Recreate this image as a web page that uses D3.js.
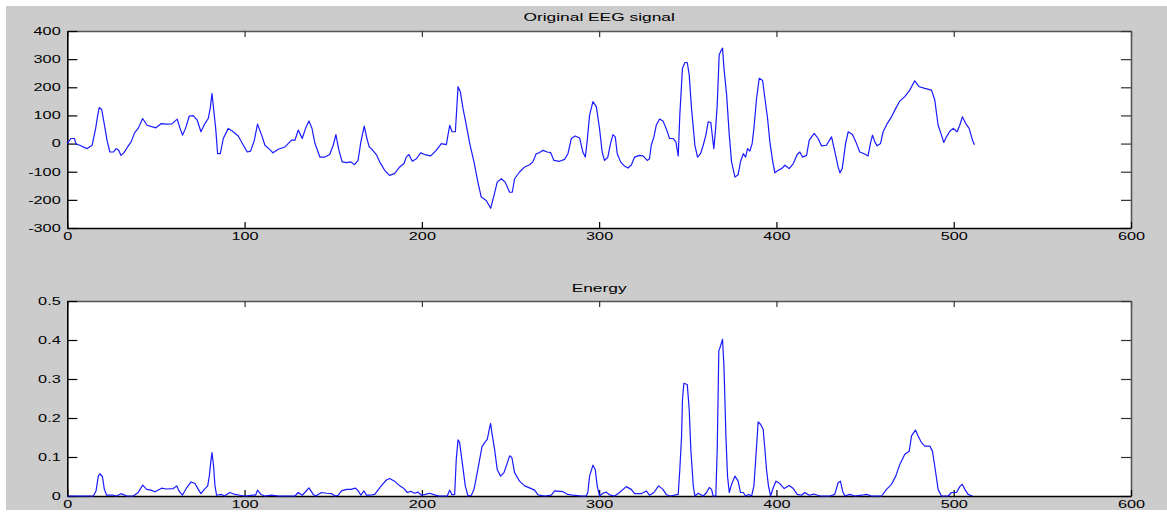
<!DOCTYPE html>
<html>
<head>
<meta charset="utf-8">
<script src="https://cdn.jsdelivr.net/npm/d3@7/dist/d3.min.js"></script>
<style>
    body { margin: 0; background: #ffffff; }
    svg { display: block; }
</style>
</head>
<body>
<div id="figure-area"></div>
<script>
// x axis (sample index) shared by both panels
var xTicks = [0, 100, 200, 300, 400, 500, 600];
var eegTicks = [-300, -200, -100, 0, 100, 200, 300, 400];
var energyTicks = [0, 0.1, 0.2, 0.3, 0.4, 0.5];

// [sample, value]
var eegPoints = [
    [0,0],[2,18],[4,18],[5,-2],[7,-6],[11,-18],[14,-6],[16,54],[17,95],[18,128],[19.4,121],[21,65],
    [22.4,12],[24,-30],[26,-30],[27.5,-18],[29,-24],[30.3,-42],[32,-32],[34,-12],[36,6],[38,39],[40,54],
    [42.5,89],[45,65],[47.6,60],[50,56],[53,71],[56,69],[59,70],[62,87],[63.6,54],[65,30],[66.7,54],
    [68.8,98],[71,99],[73.3,83],[75.4,42],[77.6,71],[79.5,89],[80.6,125],[81.6,178],[82.5,125],[83.7,54],
    [84.8,-36],[86.3,-36],[88,18],[90.8,54],[93.6,42],[96.4,27],[99.3,-6],[101.5,-30],[103.4,-27],
    [105.5,12],[107.3,69],[109.6,30],[111.5,-6],[113.7,-18],[116,-33],[119,-20],[122.8,-12],[126.5,12],
    [128.4,12],[130.3,48],[132.5,18],[134.4,54],[136.3,80],[138,54],[139.7,0],[142.5,-48],[145.3,-48],
    [148,-39],[150,-6],[151.5,32],[153,-18],[155,-65],[157.5,-68],[160,-65],[162,-75],[164,-60],
    [165.6,6],[167.5,62],[169,18],[170.3,-12],[171.5,-18],[174.3,-39],[176.2,-65],[179,-95],[181.8,-113],
    [184.6,-107],[187.5,-83],[189.9,-71],[191.2,-48],[192.7,-39],[194.6,-63],[196.9,-54],[199.3,-33],
    [201.6,-39],[205,-44],[208.1,-24],[211,0],[213.8,-4],[215.7,65],[217,42],[218.9,42],[220.4,202],
    [221.7,184],[223.2,125],[225.1,65],[227,0],[229.4,-65],[231.6,-137],[233.5,-190],[236.3,-202],
    [238.8,-230],[240.7,-184],[242.5,-137],[244.8,-125],[247,-137],[249.5,-173],[251,-173],[252.3,-125],
    [255.1,-101],[258,-83],[260.8,-75],[262.6,-65],[264.5,-36],[266.4,-32],[268.3,-24],[270.7,-30],
    [272.6,-32],[274.5,-60],[277.7,-63],[280.5,-56],[282.4,-36],[284.3,18],[286.5,27],[289,20],
    [290.8,-30],[292.2,-48],[293.3,12],[294.6,101],[296.5,149],[298.4,131],[300.2,54],[301.7,-30],
    [303,-60],[304.9,-48],[306.4,0],[307.8,32],[309.1,24],[310.2,-36],[312.1,-65],[314.3,-80],[316.2,-87],
    [318.1,-77],[320,-48],[322.8,-42],[324.7,-44],[327.1,-60],[328.4,-54],[329.4,-6],[330.9,24],
    [332.2,65],[334.1,87],[336,80],[337.8,54],[339.7,18],[341.8,18],[343.3,6],[344.6,-44],[345.5,101],
    [347,268],[348.4,288],[349.7,288],[350.8,244],[352.1,125],[354,-6],[355.5,-48],[357.2,-36],
    [358.7,-6],[360.2,30],[361.5,77],[363,75],[364,18],[364.7,-18],[365.7,54],[366.6,137],[367.7,315],
    [368.7,330],[369.6,339],[370.4,268],[371.9,173],[373.4,30],[374.7,-65],[376.6,-119],[378.4,-111],
    [379.7,-65],[381.3,-36],[382.6,-48],[383.7,-18],[385,-27],[386.3,0],[387.3,54],[388.8,161],
    [390.3,232],[392.2,224],[393.5,161],[395,89],[396.3,6],[397.8,-60],[399.1,-104],[401,-95],
    [402.9,-89],[404.8,-77],[407.2,-89],[409.5,-71],[411.7,-39],[413.2,-30],[414.7,-48],[417,-42],
    [418.5,12],[421.3,36],[423.5,18],[425.4,-8],[428.2,-6],[431.1,24],[433,-30],[434.8,-83],[435.8,-104],
    [437.1,-89],[439,0],[440.5,42],[442.9,32],[444.8,6],[447,-30],[449.5,-36],[451.7,-44],[453,0],
    [454.2,30],[455.5,6],[456.8,-8],[458.7,0],[460.2,42],[462.5,71],[464.9,95],[467.3,125],[469.6,151],
    [472.4,167],[475.2,190],[478,223],[480.5,202],[483.7,196],[487.5,190],[489.3,155],[491.2,65],
    [493.1,30],[494.4,4],[495.9,24],[497.8,44],[499.7,54],[501.9,42],[503.4,65],[504.9,95],[506.8,71],
    [508.7,54],[510.6,12],[511.7,-4]
];

// [sample, value]
var energyPoints = [
    [0,0],[14.7,0],[16.2,0.013],[17.5,0.051],[18.4,0.057],[19.8,0.050],[20.9,0.017],[22.2,0.002],
    [26,0.002],[27.8,0],[30.3,0.006],[33.5,0],[37.2,0],[40,0.009],[42.5,0.028],[44.8,0.017],[47.2,0.015],
    [49.5,0.011],[53.2,0.020],[56,0.018],[59.8,0.019],[61.7,0.026],[63,0.013],[64.9,0.002],[67.3,0.021],
    [69.8,0.036],[72,0.032],[73.9,0.017],[75.4,0.006],[77.3,0.017],[79.2,0.026],[80.1,0.051],[81,0.090],
    [81.6,0.111],[82.5,0.077],[83.3,0.026],[84.2,0.002],[87,0.004],[88.6,0],[91.7,0.009],[94.6,0.004],
    [97.4,0.002],[100.2,0],[104.9,0.002],[106.2,0.002],[107.3,0.015],[109.2,0.004],[111.5,0],
    [115.2,0.002],[119,0],[128.4,0],[130.3,0.009],[132.5,0.002],[134,0.009],[136.3,0.021],[138.7,0.004],
    [140,0],[143.4,0.009],[146.3,0.007],[149,0.006],[151.3,0],[152.8,0.002],[154.7,0.013],[157.5,0.017],
    [160,0.017],[162.6,0.020],[164.1,0.013],[165.6,0.002],[167.3,0.013],[168.8,0.002],[170.7,0.002],
    [173.4,0.004],[177.1,0.026],[180,0.041],[181.8,0.045],[184.6,0.038],[187.5,0.026],[189.9,0.019],
    [191.8,0.009],[193.7,0.012],[195.9,0.007],[197.8,0.010],[199.7,0.002],[201.9,0.004],[204.4,0.007],
    [207.2,0.003],[209.5,0],[214.3,0],[215.7,0.015],[217,0.003],[218.5,0.004],[219.4,0.094],
    [220.4,0.144],[221.3,0.137],[222.8,0.085],[224.5,0.026],[226,0],[227.9,0.002],[229.4,0.017],
    [230.7,0.047],[232.6,0.094],[233.9,0.126],[235.4,0.137],[236.9,0.145],[238.2,0.175],[238.8,0.186],
    [239.5,0.162],[241,0.120],[242.5,0.068],[244.4,0.051],[246.3,0.060],[248.2,0.085],[249.5,0.103],
    [250.8,0.098],[252.3,0.060],[255.1,0.038],[258,0.026],[261.7,0.019],[263.6,0.015],[265.5,0.003],
    [269.2,0],[273,0.002],[274.9,0.013],[279.6,0.011],[282.4,0.004],[285.2,0.002],[289.9,0],[292.7,0],
    [293.6,0.009],[294.6,0.051],[296.5,0.079],[297.8,0.068],[298.9,0.026],[300.2,0],[302.1,0.007],
    [304,0.010],[305.9,0.003],[308.7,0],[311.5,0.009],[315.3,0.024],[318.1,0.017],[320,0.006],
    [323.7,0.006],[326.6,0.013],[328.4,0.002],[330.9,0.009],[333.5,0.026],[336,0.017],[337.8,0.004],
    [339.9,0],[344.6,0.004],[345.5,0.068],[346.5,0.154],[347,0.248],[347.8,0.289],[349.7,0.286],
    [350.8,0.222],[351.7,0.120],[353.1,0.026],[354,0],[355.9,0.007],[358.7,0],[360.6,0.009],[362.1,0.022],
    [363.4,0.017],[364.3,0],[365.8,0],[366.6,0.120],[367.5,0.372],[368.5,0.385],[369.6,0.402],
    [370.4,0.333],[371.5,0.154],[372.4,0.051],[373.4,0.009],[374.7,0.030],[376.6,0.051],[378.4,0.038],
    [379.7,0.009],[381.3,0.009],[382.6,0],[384.4,0.004],[386,0],[387.3,0.026],[388.8,0.128],[389.7,0.190],
    [391,0.184],[392.5,0.171],[393.5,0.120],[394.4,0.068],[395.5,0.026],[396.7,0],[398.2,0.021],
    [399.7,0.038],[401.9,0.032],[404.4,0.019],[407.2,0.027],[409.5,0.019],[411.7,0.004],[414.2,0.002],
    [416,0.009],[418.5,0.002],[421.1,0.005],[424.5,0],[430.1,0],[432.9,0.004],[434.8,0.034],[436.1,0.038],
    [437.3,0.013],[438.6,0],[441.4,0.004],[444.2,0],[448,0.002],[450.8,0.004],[453.6,0],[459.3,0],
    [462.1,0.017],[464.9,0.030],[467.3,0.051],[469.6,0.081],[472.4,0.107],[474.9,0.115],[476.2,0.154],
    [478.4,0.169],[479.9,0.154],[481.8,0.137],[483.7,0.128],[486.5,0.128],[488,0.115],[489.3,0.077],
    [491.2,0.017],[493.1,0],[496.9,0],[498.7,0.009],[501.6,0.009],[503.4,0.024],[504.8,0.030],
    [506.3,0.017],[508.1,0.004],[510.6,0]
];

function Figure() {
    var self = this;
    self.init();
}

Figure.prototype.init = function() {
    var self = this;

    self.width = 1167;
    self.height = 512;
    self.left = 67.3;
    self.right = 1131;
    self.stretch = 1.55;     // the old screenshot is stretched sideways
    self.fontSize = 10.5;

    self.svg = d3.select("#figure-area").append("svg")
        .attr("width", self.width)
        .attr("height", self.height);

    // gray figure background
    self.svg.append("rect")
        .attr("x", 6)
        .attr("y", 6)
        .attr("width", self.width - 6)
        .attr("height", self.height - 8)
        .attr("fill", "#cccccc");

    self.x = d3.scaleLinear()
        .domain([0, 600])
        .range([self.left, self.right]);

    self.renderPanel({
        title: "Original EEG signal", titleY: 21.5,
        top: 31, bottom: 228,
        domain: [-300, 400], ticks: eegTicks,
        format: function(d) { return d3.format("d")(d).replace("\u2212", "-"); },
        points: eegPoints
    });

    self.renderPanel({
        title: "Energy", titleY: 292,
        top: 301, bottom: 496,
        domain: [0, 0.5], ticks: energyTicks,
        format: function(d) { return d === 0 ? "0" : d3.format(".1f")(d); },
        points: energyPoints
    });
};

Figure.prototype.styleText = function(sel, size) {
    var self = this;
    sel.attr("font-family", "'Liberation Sans', Arial, Helvetica, sans-serif")
        .attr("font-size", size || self.fontSize)
        .attr("fill", "#000");
};

Figure.prototype.renderPanel = function(cfg) {
    var self = this;
    var g = self.svg.append("g");

    var y = d3.scaleLinear()
        .domain(cfg.domain)
        .range([cfg.bottom, cfg.top]);

    // white plot area
    g.append("rect")
        .attr("x", self.left)
        .attr("y", cfg.top)
        .attr("width", self.right - self.left)
        .attr("height", cfg.bottom - cfg.top)
        .attr("fill", "#ffffff");

    // TOP / RIGHT (no labels)
    var topAxis = g.append("g")
        .attr("transform", "translate(0," + cfg.top + ")")
        .call(d3.axisTop(self.x).tickValues(xTicks).tickSizeInner(-6).tickSizeOuter(0).tickFormat(""));

    var rightAxis = g.append("g")
        .attr("transform", "translate(" + self.right + ",0)")
        .call(d3.axisRight(y).tickValues(cfg.ticks).tickSizeInner(-10).tickSizeOuter(0).tickFormat(""));

    [topAxis, rightAxis].forEach(function(a) {
        a.select(".domain").attr("stroke", "#555").attr("stroke-width", 1.6);
        a.selectAll(".tick line").attr("stroke", "#333").attr("stroke-width", 1.2);
    });

    // BOTTOM X AXIS
    var xAxis = g.append("g")
        .attr("transform", "translate(0," + cfg.bottom + ")")
        .call(d3.axisBottom(self.x).tickValues(xTicks).tickSizeInner(-6).tickSizeOuter(0).tickPadding(5));

    // LEFT Y AXIS
    var yAxis = g.append("g")
        .attr("transform", "translate(" + self.left + ",0)")
        .call(d3.axisLeft(y).tickValues(cfg.ticks).tickSizeInner(-10).tickSizeOuter(0).tickFormat(cfg.format));

    [xAxis, yAxis].forEach(function(a) {
        a.attr("font-size", null).attr("font-family", null);
        a.select(".domain").attr("stroke", "#000").attr("stroke-width", 1.6);
        a.selectAll(".tick line").attr("stroke", "#000").attr("stroke-width", 1.2);
        self.styleText(a.selectAll("text"));
        a.selectAll("text").attr("transform", "scale(" + self.stretch + ",1)");
    });

    yAxis.selectAll("text").attr("x", -6.6 / self.stretch);

    // TITLE
    var cx = (self.left + self.right) / 2;
    var title = g.append("text")
        .attr("x", cx / self.stretch)
        .attr("y", cfg.titleY)
        .attr("text-anchor", "middle")
        .attr("transform", "scale(" + self.stretch + ",1)")
        .text(cfg.title);
    self.styleText(title, 11.2);

    // SIGNAL
    var line = d3.line()
        .x(function(d) { return self.x(d[0]); })
        .y(function(d) { return y(d[1]); });

    g.append("path")
        .datum(cfg.points)
        .attr("d", line)
        .attr("fill", "none")
        .attr("stroke", "#1a1aff")
        .attr("stroke-width", 1.2)
        .attr("stroke-linejoin", "round");
};

new Figure();
</script>
</body>
</html>
